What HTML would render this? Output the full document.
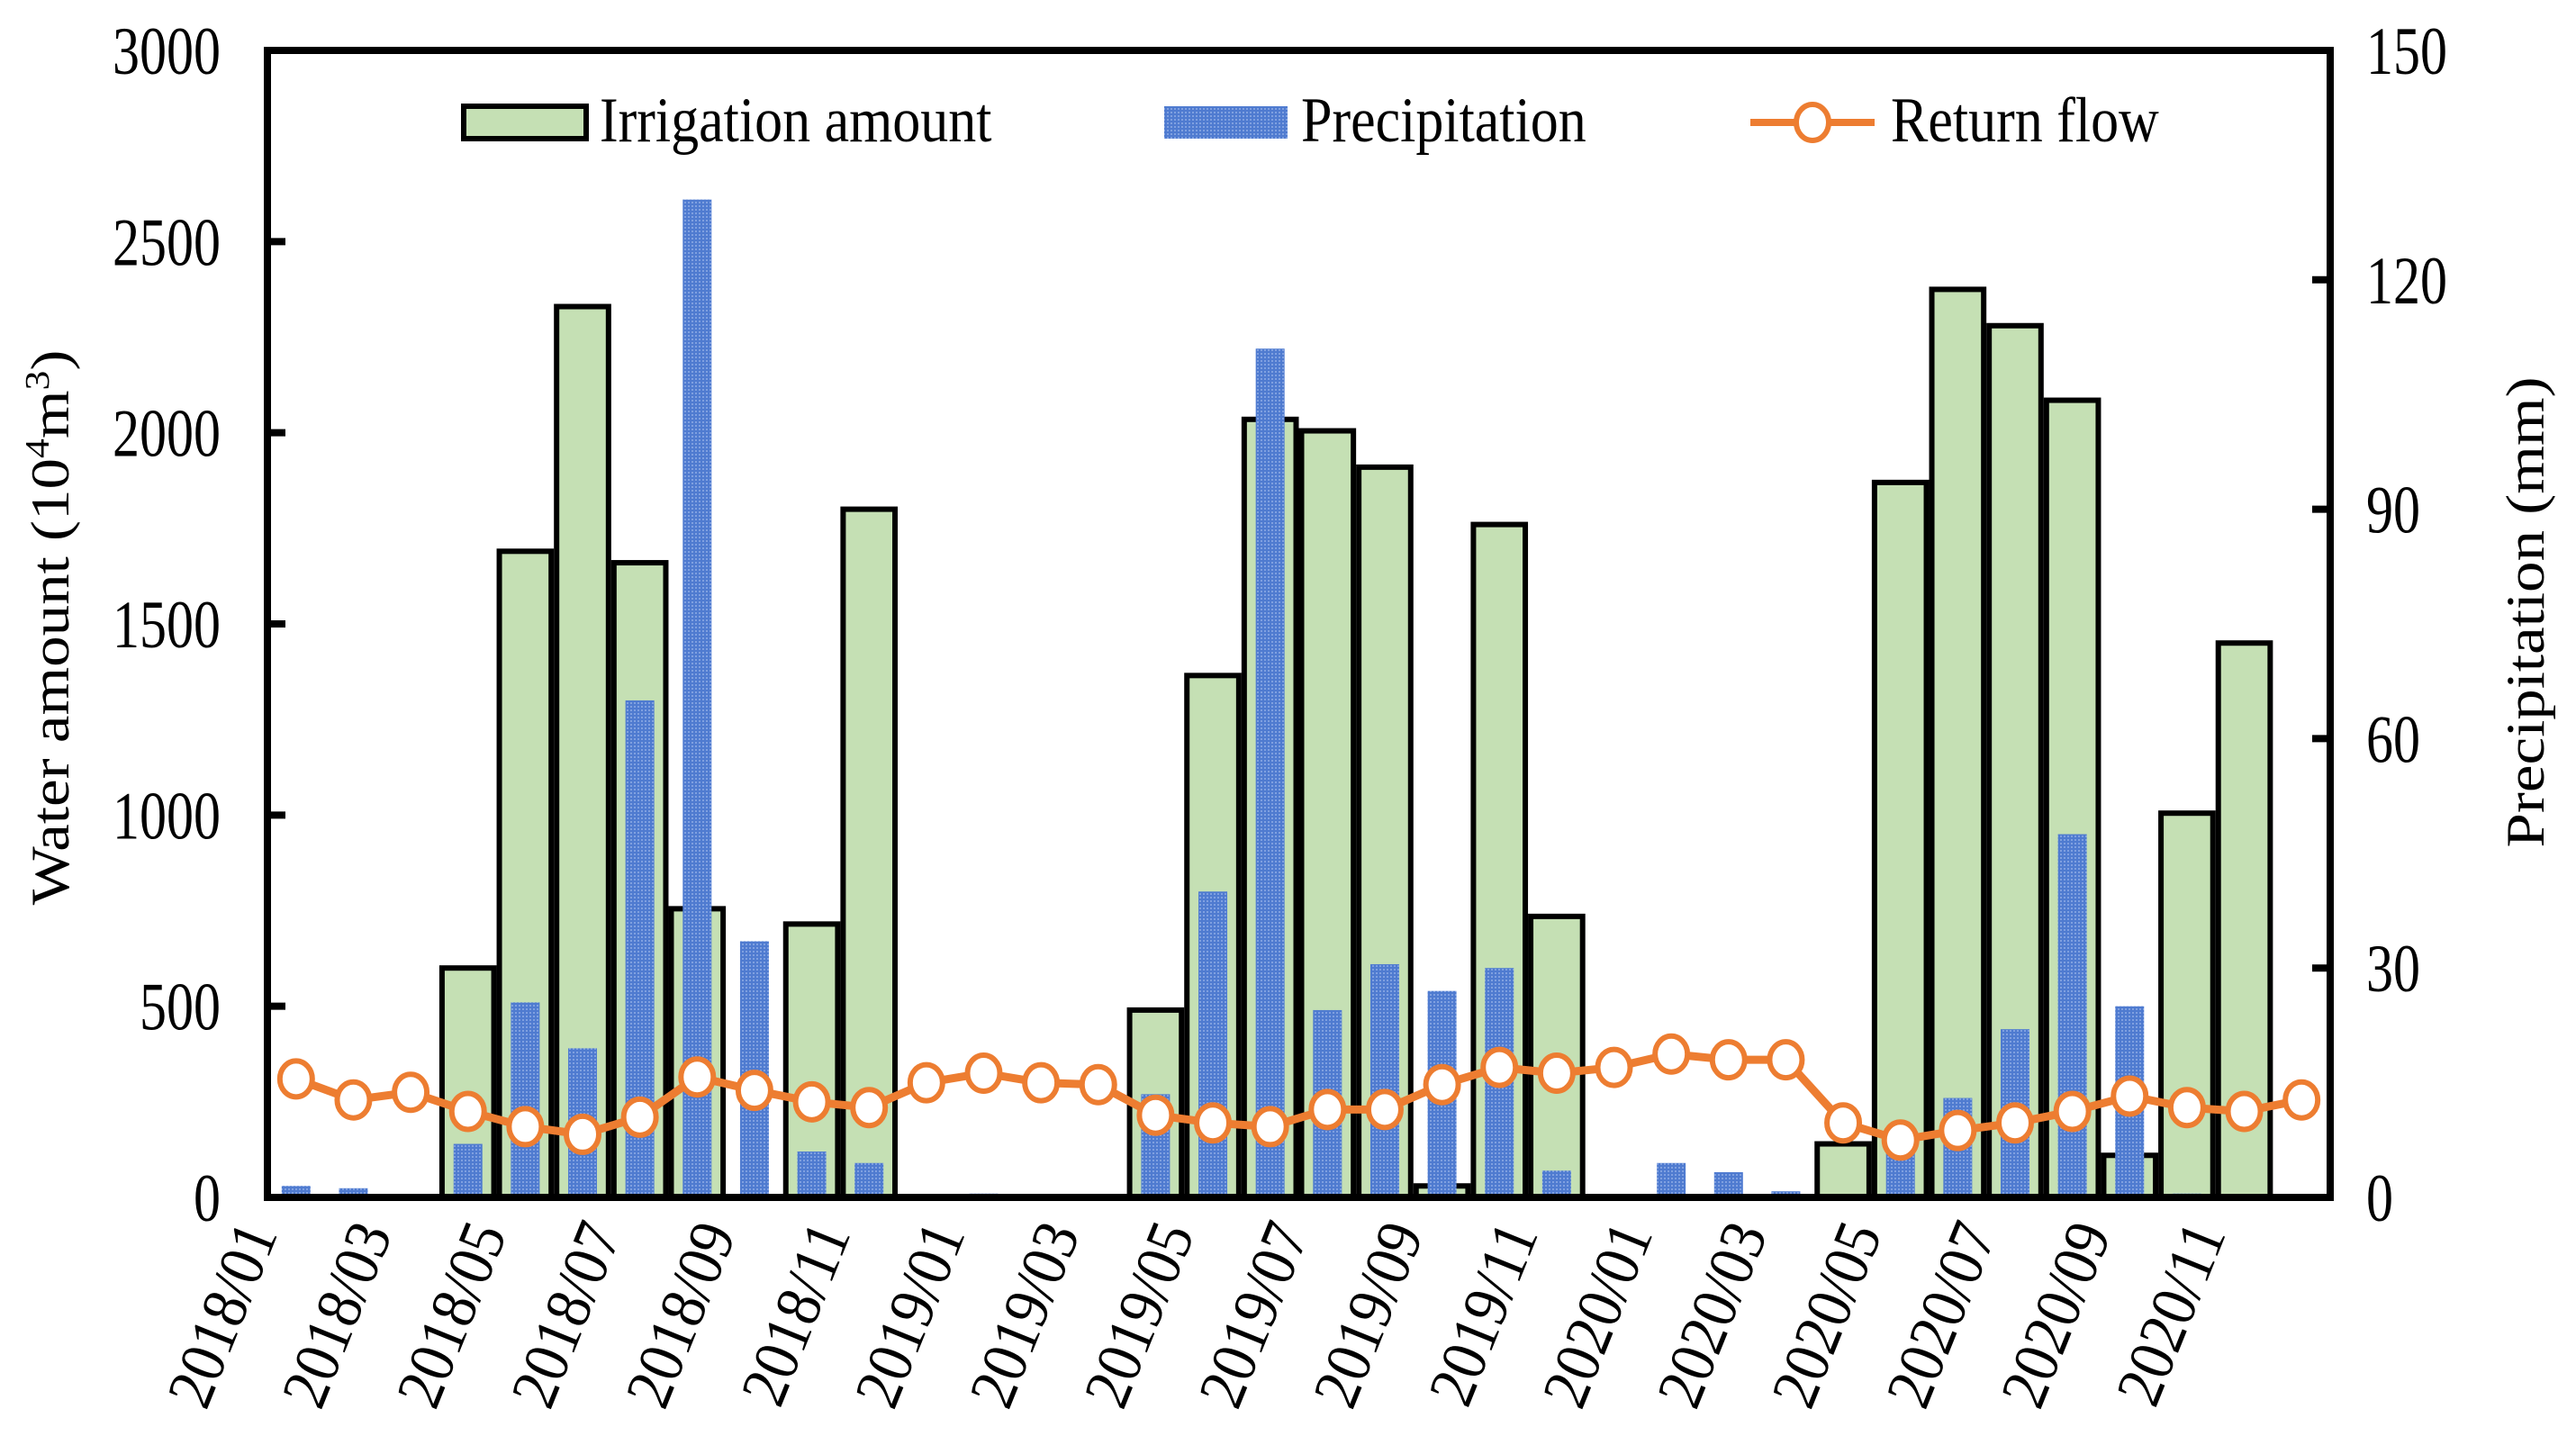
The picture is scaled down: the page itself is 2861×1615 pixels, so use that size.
<!DOCTYPE html>
<html><head><meta charset="utf-8"><style>
html,body{margin:0;padding:0;background:#fff}
svg{display:block;font-family:"Liberation Serif",serif}
</style></head><body>
<svg id="chart" width="2861" height="1615" viewBox="0 0 2861 1615">
<defs>
<pattern id="dots" width="4" height="4" patternUnits="userSpaceOnUse"><rect width="4" height="4" fill="#4F7BD0"/><rect width="2" height="2" fill="#7FA0E0"/></pattern>
</defs>
<g id="bars-irr"></g><g id="bars-pre"></g><g id="line"></g><g id="axes"></g>
<g>
<rect x="515" y="118" width="136" height="36" fill="#C5E0B4" stroke="#000" stroke-width="6"/>
<text transform="translate(666,157) scale(1,1.15)" font-size="62">Irrigation amount</text>
<rect x="1293" y="118" width="137" height="36" fill="url(#dots)"/>
<text transform="translate(1445,157) scale(1,1.15)" font-size="62">Precipitation</text>
<line x1="1944" y1="136" x2="2082" y2="136" stroke="#ED7D31" stroke-width="8"/>
<ellipse cx="2013" cy="136" rx="18" ry="20" fill="#fff" stroke="#ED7D31" stroke-width="6"/>
<text transform="translate(2100,157) scale(1,1.15)" font-size="62">Return flow</text>
</g>
<text transform="translate(76,697) rotate(-90) scale(1.15,1)" text-anchor="middle" font-size="60">Water amount (10<tspan font-size="38" dy="-22">4</tspan><tspan dy="22">m</tspan><tspan font-size="38" dy="-22">3</tspan><tspan dy="22">)</tspan></text>
<text transform="translate(2825,680) rotate(-90) scale(1.15,1)" text-anchor="middle" font-size="60">Precipitation (mm)</text>
</svg>
<script>
const months = [];
for (const y of [2018,2019,2020]) for (let m=1;m<=12;m++) months.push(y+'/'+String(m).padStart(2,'0'));
const irrigation = [0,0,0,600,1690,2330,1660,755,0,715,1800,0, 0,0,0,490,1365,2035,2005,1910,30,1760,735,0, 0,0,0,140,1870,2375,2280,2085,110,1005,1450,0];
const precipitation = [1.5,1.2,0,7,25.5,19.5,65,130.5,33.5,6,4.5,0, 0.5,0,0,13.5,40,111,24.5,30.5,27,30,3.5,0, 4.5,3.3,0.8,0,8,13,22,47.5,25,0.5,0.3,0];
const returnFlow = [310,255,275,225,185,165,210,315,280,250,235,300, 325,300,295,215,195,185,230,230,295,340,325,340, 375,360,360,195,150,175,195,225,265,235,225,255];
const leftTicks = [0,500,1000,1500,2000,2500,3000];
const rightTicks = [0,30,60,90,120,150];

const NS='http://www.w3.org/2000/svg';
const L=297,R=2588,T=56,B=1330;
const bw=(R-L)/months.length;
const xc=i=>L+bw*(i+0.5);
const yL=v=>B-(v/3000)*(B-T);
const yR=v=>B-(v/150)*(B-T);
function mk(tag,attrs,parent){const e=document.createElementNS(NS,tag);for(const k in attrs)e.setAttribute(k,attrs[k]);parent.appendChild(e);return e;}
const gI=document.getElementById('bars-irr'),gP=document.getElementById('bars-pre'),gL=document.getElementById('line'),gA=document.getElementById('axes');
irrigation.forEach((v,i)=>{ if(v<=0) return;
  const e=mk('rect',{x:xc(i)-bw/2+3,y:yL(v),width:bw-6,height:B-yL(v),fill:'#C5E0B4',stroke:'#000','stroke-width':6},gI);
  
  
});
precipitation.forEach((v,i)=>{ if(v<=0) return;
  const e=mk('rect',{x:xc(i)-16,y:yR(v),width:32,height:B-yR(v),fill:'url(#dots)'},gP);
  
  
});
const pl=mk('polyline',{points:returnFlow.map((v,i)=>xc(i)+','+yL(v)).join(' '),fill:'none',stroke:'#ED7D31','stroke-width':9,'stroke-linejoin':'round'},gL);


returnFlow.forEach((v,i)=>{
  const e=mk('ellipse',{cx:xc(i),cy:yL(v),rx:18,ry:20,fill:'#fff',stroke:'#ED7D31','stroke-width':6},gL);
  
  
});
const frame=mk('rect',{x:L,y:T,width:R-L,height:B-T,fill:'none',stroke:'#000','stroke-width':8},gA);


leftTicks.forEach(v=>{
  mk('line',{x1:L,x2:L+20,y1:yL(v),y2:yL(v),stroke:'#000','stroke-width':8},gA);
  const t=mk('text',{x:0,y:0,'text-anchor':'end','font-size':60,transform:'translate('+(L-52)+','+(yL(v)+26)+') scale(1,1.25)'},gA);t.textContent=v;
  
  
});
rightTicks.forEach(v=>{
  mk('line',{x1:R-20,x2:R,y1:yR(v),y2:yR(v),stroke:'#000','stroke-width':8},gA);
  const t=mk('text',{x:0,y:0,'text-anchor':'start','font-size':60,transform:'translate('+(R+40)+','+(yR(v)+26)+') scale(1,1.25)'},gA);t.textContent=v;
  
  
});
months.forEach((m,i)=>{ if(i%2) return;
  const x=xc(i)-20,y=B+40;
  const t=mk('text',{x:0,y:0,'text-anchor':'end','font-size':62,transform:'translate('+x+','+y+') rotate(-68) scale(1.05,1.15)'},gA);t.textContent=m;
  
  
});
</script>
</body></html>
